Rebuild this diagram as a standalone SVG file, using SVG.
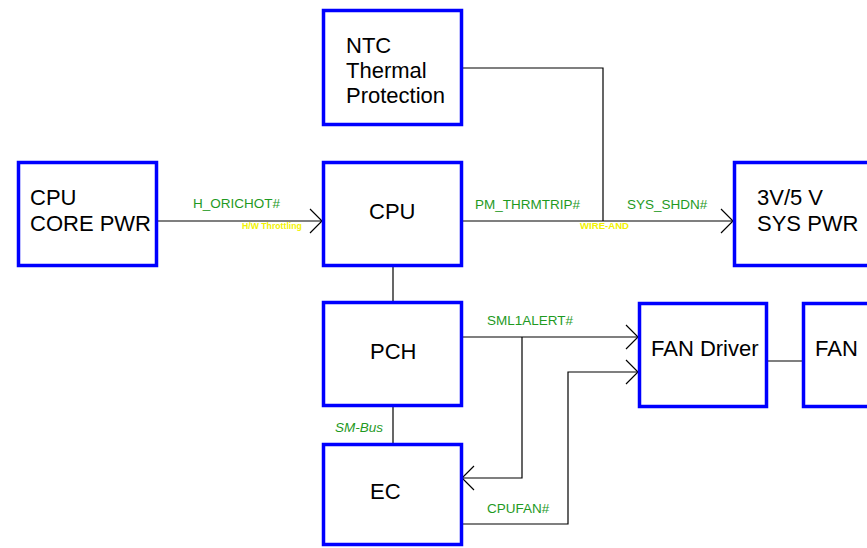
<svg xmlns="http://www.w3.org/2000/svg" width="867" height="548" viewBox="0 0 867 548">
<style>
.box{fill:#fff;stroke:#0000ff;stroke-width:3.5}
.t{font-family:"Liberation Sans",Arial,sans-serif;font-size:22px;fill:#000}
.g{font-family:"Liberation Sans",Arial,sans-serif;font-size:13.5px;fill:#1f9a1f}
.y{font-family:"Liberation Sans",Arial,sans-serif;font-weight:bold;fill:#f2f200}
.w{stroke:#000;stroke-width:1.2;fill:none}
</style>
<defs>
<marker id="arr" markerUnits="userSpaceOnUse" viewBox="0 0 14 26" refX="13" refY="13" markerWidth="14" markerHeight="26" orient="auto" overflow="visible">
<path d="M1,1 L13,13 L1,25" fill="none" stroke="#000" stroke-width="1.2"/>
</marker>
</defs>
<rect width="867" height="548" fill="#fff"/>
<g id="connectors">
<path class="w" d="M158,221 H322" marker-end="url(#arr)"/>
<path class="w" d="M462,221 H733" marker-end="url(#arr)"/>
<path class="w" d="M462,68 H603 V221"/>
<path class="w" d="M393,266 V302"/>
<path class="w" d="M393,406 V444"/>
<path class="w" d="M462,337 H638" marker-end="url(#arr)"/>
<path class="w" d="M522,337 V478 H462" marker-end="url(#arr)"/>
<path class="w" d="M462,524 H568 V372 H638" marker-end="url(#arr)"/>
<path class="w" d="M767,361 H802"/>
<text class="g" x="193" y="208">H_ORICHOT#</text>
<text class="y" x="242" y="229" font-size="8.7">H/W Throttling</text>
<text class="g" x="475" y="209">PM_THRMTRIP#</text>
<text class="g" x="627" y="209">SYS_SHDN#</text>
<text class="y" x="580" y="229" font-size="9.6">WIRE-AND</text>
<text class="g" x="487" y="325">SML1ALERT#</text>
<text class="g" x="335" y="432" font-style="italic">SM-Bus</text>
<text class="g" x="487" y="513">CPUFAN#</text>
</g>
<g id="ntc">
<rect class="box" x="323.5" y="10.5" width="138" height="114"/>
<text class="t" x="346" y="53">NTC</text>
<text class="t" x="346" y="78">Thermal</text>
<text class="t" x="346" y="103">Protection</text>
</g>
<g id="corepwr">
<rect class="box" x="18.5" y="162.5" width="138" height="103"/>
<text class="t" x="30" y="205">CPU</text>
<text class="t" x="30" y="231">CORE PWR</text>
</g>
<g id="cpu">
<rect class="box" x="323.5" y="162.5" width="138" height="103"/>
<text class="t" x="369" y="219">CPU</text>
</g>
<g id="syspwr">
<rect class="box" x="734.5" y="162.5" width="200" height="103"/>
<text class="t" x="757" y="205">3V/5 V</text>
<text class="t" x="757" y="231">SYS PWR</text>
</g>
<g id="pch">
<rect class="box" x="323.5" y="302.5" width="138" height="103"/>
<text class="t" x="370" y="359">PCH</text>
</g>
<g id="ec">
<rect class="box" x="323.5" y="444.5" width="138" height="100"/>
<text class="t" x="370" y="499">EC</text>
</g>
<g id="fandriver">
<rect class="box" x="639.5" y="303.5" width="127" height="103"/>
<text class="t" x="651" y="356">FAN Driver</text>
</g>
<g id="fan">
<rect class="box" x="803.5" y="303.5" width="100" height="103"/>
<text class="t" x="815" y="356">FAN</text>
</g>
</svg>
